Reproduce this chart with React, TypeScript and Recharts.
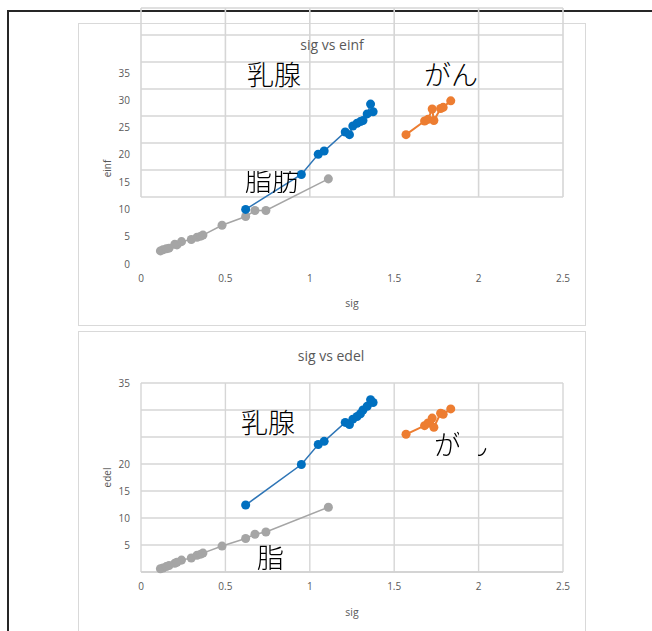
import { CartesianGrid, Scatter, ScatterChart, XAxis, YAxis, ZAxis } from "recharts";

// 乳腺 (mammary gland)
const sigNyusen = [0.62, 0.95, 1.05, 1.085, 1.21, 1.235, 1.255, 1.28, 1.3, 1.315, 1.34, 1.36, 1.375];
const einfNyusen = [10.0, 16.4, 20.1, 20.7, 24.2, 23.7, 25.3, 25.8, 26.1, 26.3, 27.5, 29.3, 27.9];
const edelNyusen = [12.4, 19.9, 23.6, 24.2, 27.7, 27.3, 28.3, 28.8, 29.3, 30.0, 30.7, 31.9, 31.4];

// がん (cancer)
const sigGan = [1.57, 1.68, 1.7, 1.725, 1.735, 1.775, 1.79, 1.835];
const einfGan = [23.7, 26.2, 26.5, 28.4, 26.3, 28.5, 28.7, 29.9];
const edelGan = [25.5, 27.1, 27.6, 28.5, 26.8, 29.4, 29.2, 30.2];

// 脂肪 (fat)
const sigShibo = [0.115, 0.13, 0.15, 0.166, 0.2, 0.213, 0.24, 0.298, 0.332, 0.354, 0.367, 0.48, 0.62, 0.675, 0.74, 1.11];
const einfShibo = [2.4, 2.6, 2.8, 2.9, 3.6, 3.5, 4.1, 4.5, 4.9, 5.1, 5.3, 7.1, 8.7, 9.8, 9.8, 15.6];
const edelShibo = [0.6, 0.75, 1.0, 1.2, 1.6, 1.8, 2.2, 2.6, 3.1, 3.3, 3.5, 4.8, 6.2, 7.0, 7.4, 12.0];

const xTicks = [0, 0.5, 1, 1.5, 2, 2.5];
const yTicks = [0, 5, 10, 15, 20, 25, 30, 35];
// labels that are blank in the lower chart
const blankEdelTicks = [0, 25, 30];

const toPoints = (xs: number[], ys: number[]) => xs.map((x, i) => ({ x, y: ys[i] }));

const font = "'Open Sans', 'Noto Sans', sans-serif";
const jpFont = "'Noto Sans CJK JP', sans-serif";
const tickStyle = { fill: "#595959", fontSize: 10, fontFamily: font };
const gridColor = "#d6d6d6";

const blue = "#0070c0";
const blueLine = "#2e75b6";
const orange = "#ed7d31";
const gray = "#a5a5a5";

const abs = (left: number, top: number): React.CSSProperties => ({ position: "absolute", left, top });

function JpLabel({
  text,
  left,
  top,
  mask,
}: {
  text: string;
  left: number;
  top: number;
  mask?: string;
}) {
  return (
    <div
      style={{
        ...abs(left, top),
        fontFamily: jpFont,
        fontWeight: 200,
        fontSize: 27,
        lineHeight: "27px",
        color: "#000",
        whiteSpace: "nowrap",
        WebkitMaskImage: mask,
        maskImage: mask,
      }}
    >
      {text}
    </div>
  );
}

function Title({ text, cx, cy }: { text: string; cx: number; cy: number }) {
  return (
    <div
      style={{
        ...abs(cx - 100, cy - 10),
        width: 200,
        textAlign: "center",
        fontFamily: font,
        fontSize: 14,
        lineHeight: "20px",
        color: "#595959",
      }}
    >
      {text}
    </div>
  );
}

function Series({ yNyusen, yGan, yShibo }: { yNyusen: number[]; yGan: number[]; yShibo: number[] }) {
  return (
    <>
      <ZAxis type="number" range={[62, 62]} />
      <Scatter
        data={toPoints(sigShibo, yShibo)}
        fill={gray}
        line={{ stroke: gray, strokeWidth: 1.5 }}
        lineType="joint"
        isAnimationActive={false}
      />
      <Scatter
        data={toPoints(sigGan, yGan)}
        fill={orange}
        line={{ stroke: orange, strokeWidth: 2 }}
        lineType="joint"
        isAnimationActive={false}
      />
      <Scatter
        data={toPoints(sigNyusen, yNyusen)}
        fill={blue}
        line={{ stroke: blueLine, strokeWidth: 1.5 }}
        lineType="joint"
        isAnimationActive={false}
      />
    </>
  );
}

export default function App() {
  const chartStyle: React.CSSProperties = { position: "absolute", left: 0, top: 0 };

  return (
    <div style={{ position: "relative", width: 652, height: 631, overflow: "hidden", background: "#fff" }}>
      <style>{"body{margin:0}"}</style>

      {/* page frame */}
      <div style={{ ...abs(7, 10), width: 700, height: 700, borderTop: "2px solid #262626", borderLeft: "2px solid #262626" }} />

      {/* chart boxes */}
      <div style={{ ...abs(78, 23), width: 506, height: 301, border: "1px solid #d9d9d9" }} />
      <div style={{ ...abs(78, 331), width: 506, height: 340, border: "1px solid #d9d9d9" }} />

      {/* upper chart grid, drawn shifted upward */}
      <ScatterChart width={652} height={631} style={chartStyle} margin={{ top: 8, right: 89, bottom: 374, left: 81 }}>
        <CartesianGrid stroke={gridColor} strokeWidth={1.6} />
        <XAxis
          type="number"
          dataKey="x"
          domain={[0, 2.5]}
          ticks={xTicks}
          height={60}
          axisLine={false}
          tickLine={false}
          tick={{ fill: "none" }}
          tickFormatter={() => ""}
        />
        <YAxis
          type="number"
          dataKey="y"
          domain={[0, 35]}
          ticks={yTicks}
          width={60}
          axisLine={false}
          tickLine={false}
          tick={{ fill: "none" }}
          tickFormatter={() => ""}
        />
        <Scatter data={toPoints(sigNyusen, einfNyusen)} fill="none" isAnimationActive={false} />
      </ScatterChart>

      {/* lower chart: sig vs edel */}
      <ScatterChart width={652} height={660} style={chartStyle} margin={{ top: 383, right: 89, bottom: 28, left: 81 }}>
        <CartesianGrid stroke={gridColor} strokeWidth={1.4} />
        <XAxis
          type="number"
          dataKey="x"
          domain={[0, 2.5]}
          ticks={xTicks}
          height={60}
          axisLine={{ stroke: "#d0d0d0", strokeWidth: 1.4 }}
          tickLine={false}
          tickSize={0}
          tickMargin={11}
          tick={tickStyle}
          label={{ value: "sig", position: "insideBottom", offset: 16, fill: "#595959", fontSize: 10.5, fontFamily: font }}
        />
        <YAxis
          type="number"
          dataKey="y"
          domain={[0, 35]}
          ticks={yTicks}
          width={60}
          axisLine={false}
          tickLine={false}
          tickSize={0}
          tickMargin={11}
          tick={tickStyle}
          tickFormatter={(v: number) => (blankEdelTicks.includes(v) ? "" : String(v))}
          label={{
            value: "edel",
            angle: -90,
            position: "insideLeft",
            offset: 26,
            fill: "#595959",
            fontSize: 10,
            fontFamily: font,
            style: { textAnchor: "middle" },
          }}
        />
        {Series({ yNyusen: edelNyusen, yGan: edelGan, yShibo: edelShibo })}
      </ScatterChart>

      {/* upper chart: sig vs einf */}
      <ScatterChart width={652} height={631} style={chartStyle} margin={{ top: 73, right: 89, bottom: 307, left: 81 }}>
        <XAxis
          type="number"
          dataKey="x"
          domain={[0, 2.5]}
          ticks={xTicks}
          height={60}
          axisLine={false}
          tickLine={false}
          tickSize={0}
          tickMargin={11}
          tick={tickStyle}
          label={{ value: "sig", position: "insideBottom", offset: 17, fill: "#595959", fontSize: 10.5, fontFamily: font }}
        />
        <YAxis
          type="number"
          dataKey="y"
          domain={[0, 35]}
          ticks={yTicks}
          width={60}
          axisLine={false}
          tickLine={false}
          tickSize={0}
          tickMargin={11}
          tick={tickStyle}
          label={{
            value: "einf",
            angle: -90,
            position: "insideLeft",
            offset: 26,
            fill: "#595959",
            fontSize: 10,
            fontFamily: font,
            style: { textAnchor: "middle" },
          }}
        />
        {Series({ yNyusen: einfNyusen, yGan: einfGan, yShibo: einfShibo })}
      </ScatterChart>

      <Title text="sig vs einf" cx={332} cy={45} />
      <Title text="sig vs edel" cx={331} cy={356} />

      <JpLabel text="乳腺" left={247} top={60} />
      <JpLabel text="がん" left={424} top={60} />
      <JpLabel
        text="脂肪"
        left={245}
        top={166}
        mask="linear-gradient(to bottom, transparent 0 5px, #000 5px)"
      />

      <JpLabel text="乳腺" left={241} top={408} />
      <JpLabel
        text="がん"
        left={434}
        top={430}
        mask="linear-gradient(to right, #000 0 25px, transparent 25px 44px, #000 44px)"
      />
      <JpLabel
        text="脂肪"
        left={257}
        top={543}
        mask="linear-gradient(to right, #000 0 27px, transparent 27px)"
      />
    </div>
  );
}
